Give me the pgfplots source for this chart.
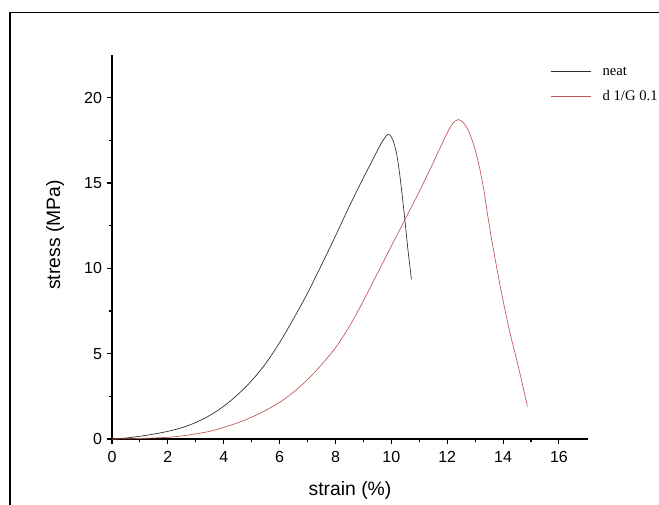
\documentclass[border=0pt]{standalone}
\usepackage{pgfplots}
\pgfplotsset{compat=1.18}
\usepackage{fontspec}
\setmainfont{Liberation Sans}
\newfontfamily\timesfont{Liberation Serif}
\definecolor{neatc}{RGB}{45,45,45}
\definecolor{redc}{RGB}{195,85,85}

\begin{document}
\begin{tikzpicture}
\useasboundingbox (0,0) rectangle (494.25pt,-378.75pt);
\begin{scope}
\clip (0,0) rectangle (494.25pt,-378.75pt);
\draw[line width=1.1pt] (7.5pt,-9.5pt) rectangle (520pt,-400pt);
\end{scope}
\begin{axis}[
  at={(84pt,-329.25pt)}, anchor=south west,
  scale only axis, width=357pt, height=288pt,
  xmin=0, xmax=17.04, ymin=0, ymax=22.5,
  axis lines=left, axis line style={line width=0.9pt, -},
  xtick={0,2,...,16}, ytick={0,5,...,20},
  minor x tick num=1, minor y tick num=1,
  tick align=outside, major tick length=4pt, minor tick length=2.5pt,
  tick style={line width=0.8pt, black},
  ticklabel style={font=\fontsize{12}{14}\selectfont},
  xticklabel style={yshift=-1.5pt},
  /pgf/number format/assume math mode=true,
  xlabel={strain (\%)}, ylabel={stress (MPa)},
  label style={font=\fontsize{14.5}{17}\selectfont},
  xlabel style={at={(axis description cs:0.5,-0.1328)}, anchor=center},
  ylabel style={at={(axis description cs:-0.1197,0.531)}, anchor=center},
  legend style={at={(axis description cs:0.92,0.977)}, anchor=north west,
    draw=none, fill=none, inner sep=0pt, row sep=6pt,
    font=\timesfont\fontsize{11}{13}\selectfont},
  legend cell align=left,
  legend image code/.code={\draw[#1,line width=0.6pt] (0pt,0pt) -- (30pt,0pt);\path[draw=none] (0pt,0pt) -- (37pt,0pt);},
]
\addplot[neatc, line width=0.5pt, smooth, tension=0.5] coordinates {
(0,0) (0.5,0.06) (1,0.16) (1.5,0.29) (2,0.45) (2.5,0.66) (3,0.97) (3.5,1.38)
(4,1.92) (4.5,2.6) (5,3.42) (5.5,4.42) (6,5.65) (6.5,7.05) (7,8.55) (7.5,10.2)
(8,11.9) (8.5,13.65) (9,15.3) (9.25,16.1) (9.5,16.9) (9.7,17.5) (9.88,17.85)
(10.0,17.7) (10.1,17.3) (10.2,16.6) (10.3,15.5) (10.4,14.1) (10.5,12.6)
(10.6,11.0) (10.72,9.35)
};
\addlegendentry{neat}
\addplot[redc, line width=0.5pt, smooth, tension=0.5] coordinates {
(0,0) (1,0.03) (2,0.1) (2.5,0.18) (3,0.3) (3.5,0.45) (4,0.68) (4.5,0.95)
(5,1.28) (5.5,1.68) (6,2.15) (6.5,2.75) (7,3.48) (7.5,4.35) (8,5.35) (8.5,6.6)
(9,8.1) (9.5,9.7) (10,11.3) (10.5,12.9) (11,14.5) (11.4,15.85) (11.7,16.9)
(11.9,17.6) (12.05,18.1) (12.2,18.5) (12.3,18.65) (12.4,18.72) (12.55,18.58) (12.7,18.25)
(12.85,17.7) (13.0,16.95) (13.15,15.95) (13.3,14.7) (13.45,13.1) (13.6,11.6)
(13.8,9.8) (14.0,8.1) (14.25,6.2) (14.5,4.55) (14.7,3.15) (14.87,1.9)
};
\addlegendentry{d 1/G 0.1}
\end{axis}
\end{tikzpicture}
\end{document}
